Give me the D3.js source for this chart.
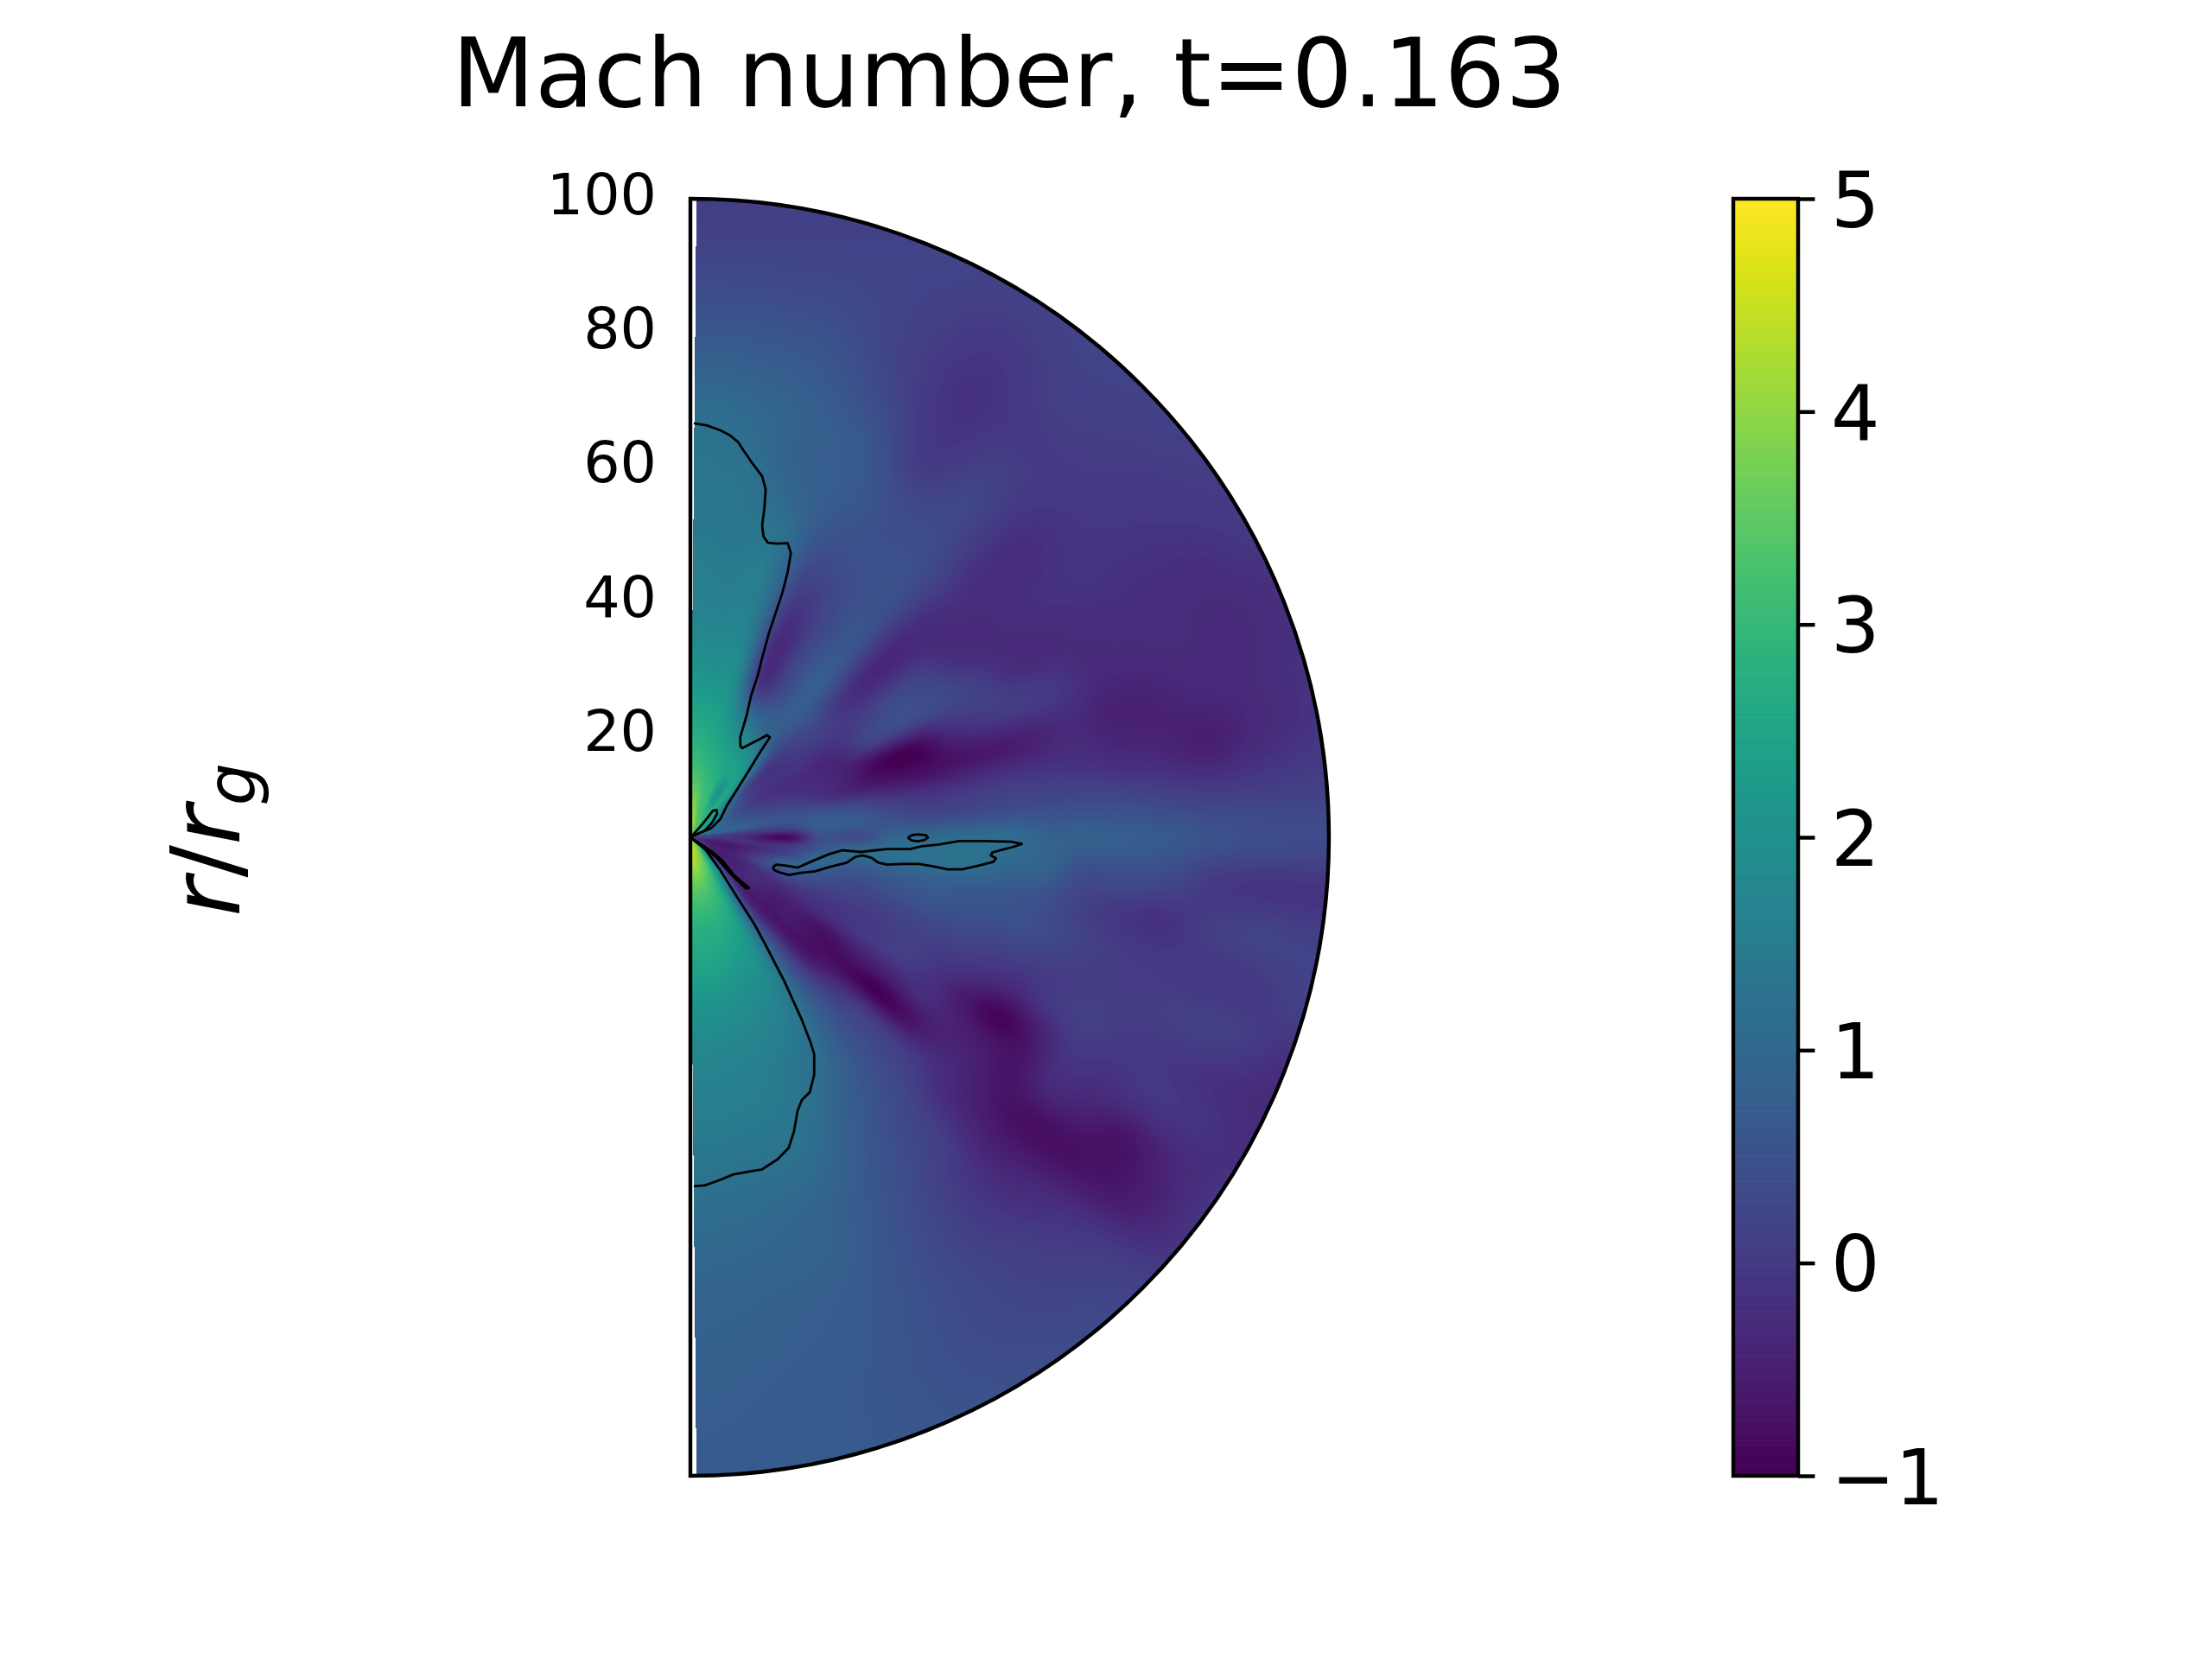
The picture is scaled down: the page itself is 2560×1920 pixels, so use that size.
<!DOCTYPE html>
<html><head><meta charset="utf-8">
<script src="https://cdnjs.cloudflare.com/ajax/libs/d3/7.8.5/d3.min.js"></script>
<style>
html,body{margin:0;padding:0;background:#fff;}
#wrap{position:relative;width:2560px;height:1920px;overflow:hidden;}
canvas,svg{position:absolute;left:0;top:0;}
text{font-family:"DejaVu Sans";fill:#000;}
</style></head>
<body><div id="wrap"><canvas id="field" width="2560" height="1920"></canvas><svg id="chart" width="2560" height="1920"></svg></div>
<script>
// ---------- data ----------
const titleText = "Mach number, t=0.163";
const colorTicks = [-1,0,1,2,3,4,5];
const radialTicks = [20,40,60,80,100];
// polar angle from the upper axis (degrees) and radius (r_g)
const thetaDeg = [0,8,16,24,32,40,48,56,62,68,74,80,85,90,95,100,105,110,115,120,125,130,135,140,150,160,170,180];
const radii = [1,4,8,12,16,20,26,32,38,44,50,56,62,68,75,82,90,100];
const machField = [
[4.6,4.2,3.6,3.1,2.8,2.5,2.1,1.8,1.6,1.5,1.4,1.35,1.3,1.1,0.8,0.5,0.25,0.05],
[4.5,4.0,3.4,3.0,2.7,2.4,2.0,1.75,1.55,1.45,1.35,1.3,1.15,1.0,0.75,0.5,0.25,0.1],
[4.0,3.4,3.1,2.8,2.5,2.2,1.85,1.6,1.45,1.4,1.25,0.95,0.8,0.8,0.65,0.45,0.25,0.15],
[3.6,3.2,2.9,2.6,2.2,1.5,0.0,-0.3,-0.1,0.2,0.5,0.65,0.7,0.6,0.3,0.15,0.15,0.2],
[3.3,3.0,2.0,2.4,2.0,1.1,0.35,0.3,0.25,0.35,0.45,0.45,0.35,0.05,-0.1,-0.15,-0.05,0.15],
[3.0,2.8,2.6,2.2,1.4,0.75,0.75,0.75,0.6,0.5,0.45,0.4,0.3,0.25,0.1,0.0,0.1,0.2],
[2.8,2.4,1.3,0.3,0.0,0.1,0.3,-0.1,-0.35,-0.35,-0.25,-0.15,-0.2,-0.2,-0.1,0.0,0.05,0.15],
[2.5,1.8,0.6,0.0,-0.1,-0.1,-0.1,0.1,0.3,0.2,-0.2,-0.3,-0.2,-0.15,-0.1,-0.1,-0.05,0.05],
[2.3,1.3,0.5,0.0,-0.2,-0.3,-0.35,0.2,0.35,0.3,0.15,-0.2,-0.3,-0.25,-0.2,-0.2,-0.2,-0.05],
[2.1,1.2,0.55,0.2,-0.05,-0.2,-0.45,-0.9,-0.9,-0.3,0.0,0.05,-0.05,-0.3,-0.3,-0.25,-0.3,-0.2],
[1.6,1.0,0.7,0.45,0.3,0.0,-0.4,-0.7,-0.8,-0.7,-0.6,-0.45,-0.3,-0.45,-0.45,-0.35,-0.3,-0.15],
[0.5,0.9,0.8,0.6,0.55,0.6,0.4,0.05,-0.1,-0.05,0.0,-0.05,-0.1,-0.25,-0.35,-0.5,-0.3,-0.1],
[0.0,0.2,0.1,0.0,0.2,0.7,0.7,0.45,0.3,0.3,0.35,0.35,0.35,0.3,0.15,0.05,0.05,0.1],
[0.2,0.0,-0.2,-0.75,-0.8,0.4,0.35,0.9,1.05,1.1,1.1,0.85,0.8,0.75,0.65,0.5,0.4,0.35],
[0.0,-0.3,-0.2,-0.2,0.0,0.55,1.1,1.2,1.25,1.25,0.95,0.85,0.4,0.4,0.3,0.0,-0.1,-0.1],
[-0.3,-0.55,-0.5,-0.2,0.3,1.0,0.7,0.75,0.8,0.7,0.6,0.45,0.15,-0.05,-0.15,0.05,0.2,0.15],
[-0.1,-0.65,-0.4,0.2,0.9,0.7,0.35,0.45,0.55,0.5,0.45,0.4,0.2,0.05,0.0,-0.05,-0.05,0.15],
[-0.1,-0.5,-0.35,0.3,0.5,0.35,0.15,0.15,0.25,0.25,0.15,0.1,0.05,0.05,0.05,0.1,0.1,-0.15],
[0.0,-0.5,-0.4,-0.15,0.0,-0.05,-0.05,0.0,0.1,0.0,-0.15,-0.3,-0.05,0.1,0.0,-0.05,-0.15,-0.3],
[0.5,-0.4,-0.45,-0.25,-0.35,-0.3,-0.2,-0.05,0.05,-0.15,-0.6,-0.95,-0.6,-0.1,-0.15,-0.1,-0.1,-0.2],
[1.5,-0.2,-0.4,-0.3,-0.5,-0.55,-0.75,-0.55,-0.5,-0.3,-0.45,-0.6,-0.7,-0.35,-0.45,-0.7,-0.45,-0.1],
[3.0,0.2,-0.3,-0.45,-0.6,-0.6,-0.8,-0.85,-1.0,-0.75,-0.4,-0.4,-0.65,-0.8,-0.8,-0.7,-0.5,-0.1],
[3.5,1.3,0.0,-0.5,-0.6,-0.65,-0.65,-0.3,0.0,0.05,0.0,-0.25,-0.4,-0.5,-0.4,-0.2,0.0,0.15],
[3.7,2.5,1.4,0.3,0.0,0.1,0.1,0.35,0.4,0.4,0.3,0.15,0.05,-0.1,-0.1,0.05,0.15,0.3],
[4.0,3.5,2.8,2.4,2.1,1.9,1.65,1.4,1.2,0.95,0.75,0.6,0.5,0.4,0.35,0.35,0.35,0.45],
[4.3,3.9,3.3,2.9,2.6,2.3,1.95,1.7,1.5,1.4,1.25,1.05,0.85,0.8,0.7,0.65,0.6,0.6],
[4.5,4.2,3.5,3.0,2.7,2.5,2.1,1.8,1.6,1.5,1.35,1.15,1.0,0.9,0.8,0.75,0.7,0.7],
[4.6,4.2,3.5,3.0,2.7,2.5,2.1,1.85,1.65,1.5,1.4,1.2,1.05,0.95,0.85,0.8,0.75,0.7]
];
// contour outlines, [x, z] in r_g
const contourUpperJet = [[0.54,64.83],[2.61,64.49],[4.68,63.73],[6.06,63.04],[7.44,61.93],[8.48,60.35],[9.52,58.82],[11.24,56.55],[11.79,54.47],[11.59,51.57],[11.24,48.81],[11.45,47.09],[12.14,46.12],[13.45,45.98],[15.25,46.05],[15.73,44.53],[15.25,41.56],[14.35,38.11],[13.31,35.0],[12.28,31.89],[11.24,28.09],[10.55,25.33],[9.52,22.22],[8.82,19.12],[7.8,15.65],[7.85,14.2],[8.13,13.97],[10.96,15.43],[12.0,16.0],[12.45,15.65],[10.96,13.4],[9.16,10.46],[7.35,7.53],[5.77,5.05],[4.65,2.8],[3.29,1.44],[0.14,0.09]];
const contourUpperLoop = [[0.14,0.09],[1.94,2.12],[3.52,4.15],[4.1,4.29],[4.19,3.7],[3.29,2.12],[2.17,0.99],[0.14,0.09]];
const contourDisk = [[12.86,-4.74],[13.44,-4.29],[14.79,-4.42],[16.82,-4.74],[19.08,-3.74],[21.79,-2.62],[23.82,-2.03],[25.39,-2.17],[26.75,-2.3],[29.0,-2.03],[30.81,-1.85],[34.42,-1.85],[36.22,-1.4],[38.93,-1.13],[42.08,-0.59],[46.14,-0.59],[50.2,-0.68],[51.92,-1.04],[50.65,-1.49],[48.85,-1.94],[47.27,-2.39],[47.05,-2.84],[47.86,-3.29],[47.5,-3.83],[45.24,-4.42],[42.53,-5.01],[40.28,-5.01],[38.02,-4.56],[35.77,-4.19],[33.06,-4.19],[30.81,-4.29],[29.45,-3.97],[28.33,-3.2],[26.97,-2.84],[25.85,-3.07],[24.49,-3.97],[21.79,-4.65],[19.53,-5.32],[17.28,-5.55],[15.47,-5.91],[14.12,-5.55],[13.22,-5.19],[12.86,-4.74]];
const contourDiskSpot = [[34.05,-0.05],[34.64,0.32],[35.63,0.45],[36.9,0.32],[37.21,-0.05],[36.67,-0.41],[35.63,-0.63],[34.64,-0.5],[34.05,-0.05]];
const contourLowerLoop = [[0.14,-0.14],[1.94,-1.26],[3.29,-2.17],[5.1,-3.74],[6.9,-6.0],[9.16,-7.94],[8.71,-8.03],[6.45,-5.86],[4.19,-3.29],[2.62,-1.94],[0.14,-0.14]];
const contourLowerJet = [[0.14,-0.14],[2.39,-1.94],[4.65,-5.1],[6.9,-8.71],[10.06,-13.67],[11.93,-17.15],[14.7,-22.51],[17.46,-28.6],[18.84,-32.18],[19.39,-33.97],[19.39,-37.19],[18.7,-39.91],[17.46,-41.13],[16.77,-42.91],[16.21,-46.13],[15.39,-48.64],[13.66,-50.43],[11.24,-52.0],[9.17,-52.36],[6.75,-52.79],[4.68,-53.65],[2.26,-54.51],[0.54,-54.65]];
const contours = [contourUpperJet,contourUpperLoop,contourDisk,contourDiskSpot,contourLowerLoop,contourLowerJet];

// ---------- layout ----------
const PT = 400/72;
const cx = 799, yTop = 230, yBottom = 1708, R = (yBottom-yTop)/2, cy = (yTop+yBottom)/2;
const xS = d3.scaleLinear().domain([0,100]).range([cx,cx+R]);
const zS = d3.scaleLinear().domain([-100,100]).range([yBottom,yTop]);
const color = d3.scaleSequential(d3.interpolateViridis).domain([-1,5]);
const thetaIdx = d3.scaleLinear().domain(thetaDeg).range(thetaDeg.map((d,i)=>i/(thetaDeg.length-1))).clamp(true);
const radiusIdx = d3.scaleLinear().domain(radii).range(radii.map((d,i)=>i/(radii.length-1))).clamp(true);

// ---------- field: Catmull-Rom surface through the read values ----------
function catmull(v,t){
  const n=v.length-1, s=t*n, i=Math.min(Math.floor(s),n-1), f=s-i;
  const p0=v[Math.max(i-1,0)],p1=v[i],p2=v[i+1],p3=v[Math.min(i+2,n)];
  return 0.5*(2*p1+(-p0+p2)*f+(2*p0-5*p1+4*p2-p3)*f*f+(-p0+3*p1-3*p2+p3)*f*f*f);
}
const NT = 1800, NR = 800;
const table = new Float32Array(NT*NR);
for(let i=0;i<NT;i++){
  const t=i/(NT-1);
  const col=radii.map((_,j)=>catmull(machField.map(row=>row[j]),t));
  for(let j=0;j<NR;j++) table[i*NR+j]=catmull(col,j/(NR-1));
}
const lut = d3.range(256).map(i=>{const c=d3.rgb(d3.interpolateViridis(i/255));return [c.r,c.g,c.b];});
const vToLut = d3.scaleLinear().domain([-1,5]).range([0,255]).clamp(true);
const ctx = document.getElementById('field').getContext('2d');
const img = ctx.createImageData(2560,1920);
const theta0 = 0.0095;
for(let py=yTop;py<=yBottom;py++){
  for(let px=cx;px<=cx+R+1;px++){
    const dx=px+0.5-cx, dz=cy-(py+0.5);
    const rp=Math.hypot(dx,dz);
    if(rp>R) continue;
    const th=Math.atan2(dx,dz);
    if(th<theta0||th>Math.PI-theta0) continue;
    const r=rp/R*100;
    const ti=thetaIdx(th*180/Math.PI)*(NT-1), ri=radiusIdx(r)*(NR-1);
    const v=table[Math.round(ti)*NR+Math.round(ri)];
    const c=lut[Math.round(vToLut(v))];
    const o=(py*2560+px)*4;
    img.data[o]=c[0];img.data[o+1]=c[1];img.data[o+2]=c[2];img.data[o+3]=255;
  }
}
ctx.putImageData(img,0,0);

// ---------- svg overlay ----------
const svg = d3.select('#chart');
const line = d3.line().x(d=>xS(d[0])).y(d=>zS(d[1]));
svg.append('g').selectAll('path').data(contours).join('path')
  .attr('d',line).attr('fill','none').attr('stroke','#000').attr('stroke-width',0.5*PT).attr('stroke-linejoin','round');

// outline of the half disc
const outline = d3.path();
outline.moveTo(cx,yTop);
outline.arc(cx,cy,R,-Math.PI/2,Math.PI/2);
outline.closePath();
svg.append('path').attr('d',outline.toString()).attr('fill','none').attr('stroke','#000').attr('stroke-width',0.8*PT).attr('stroke-linejoin','miter');

// radial labels
const labelY = d3.scaleLinear().domain([20,100]).range([847,226]);
const yAxis = d3.axisLeft(labelY).tickValues(radialTicks).tickSize(0).tickPadding(0);
const yg = svg.append('g').attr('transform','translate(760,0)').call(yAxis);
yg.select('.domain').remove();
yg.selectAll('text').style('font-family','"DejaVu Sans"').style('font-size',(12*PT)+'px').attr('fill','#000');

// colour bar
const cbL = 2006, cbR = 2081;
const cbY = d3.scaleLinear().domain([-1,5]).range([yBottom,yTop]);
const levels = d3.range(256).map(i=>-1+6*i/256);
svg.append('g').selectAll('rect').data(levels).join('rect')
  .attr('x',cbL).attr('width',cbR-cbL)
  .attr('y',d=>cbY(d+6/256)-0.3).attr('height',(yBottom-yTop)/256+0.6)
  .attr('fill',d=>color(d+3/256));
const cbAxis = d3.axisRight(cbY).tickValues(colorTicks).tickSize(3.5*PT).tickPadding(3.5*PT).tickFormat(d3.format('d'));
const cg = svg.append('g').attr('transform',`translate(${cbR},0)`).call(cbAxis);
cg.select('.domain').remove();
cg.selectAll('line').attr('stroke','#000').attr('stroke-width',0.8*PT);
cg.selectAll('text').style('font-family','"DejaVu Sans"').style('font-size',(16*PT)+'px').attr('fill','#000').attr('dy','0.36em').attr('x',3.5*PT+3.5*PT-1);
svg.append('rect').attr('x',cbL).attr('y',yTop).attr('width',cbR-cbL).attr('height',yBottom-yTop)
  .attr('fill','none').attr('stroke','#000').attr('stroke-width',0.8*PT);

// title
svg.append('text').attr('x',1168).attr('y',122.7).attr('text-anchor','middle')
  .style('font-size',(20*PT)+'px').text(titleText);

// y label
const yl = svg.append('text').attr('transform','translate(277,972) rotate(-90)').attr('text-anchor','middle')
  .style('font-size',(20*PT)+'px');
yl.append('tspan').style('font-style','italic').text('r');
yl.append('tspan').text('/');
yl.append('tspan').style('font-style','italic').text('r');
yl.append('tspan').style('font-style','italic').style('font-size',(14*PT)+'px').attr('dy',18).text('g');
</script></body></html>
